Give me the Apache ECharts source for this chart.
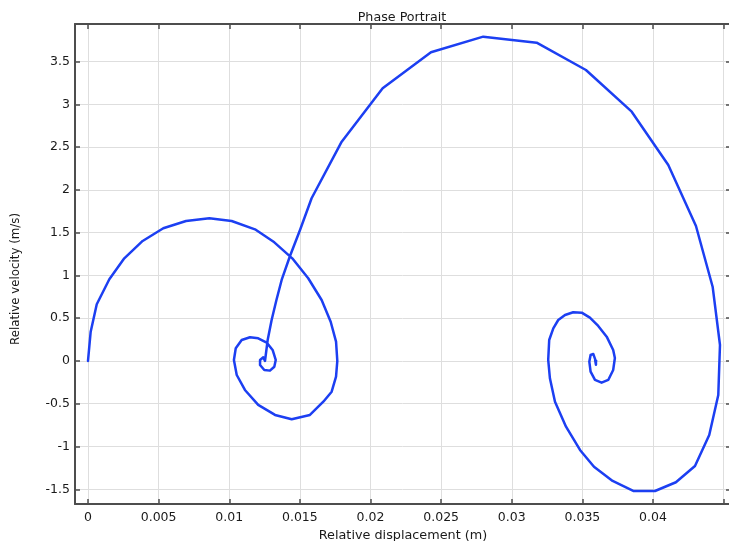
<!DOCTYPE html>
<html>
<head>
<meta charset="utf-8">
<script src="https://cdn.jsdelivr.net/npm/echarts@6/dist/echarts.min.js"></script>
<style>
html,body{margin:0;padding:0;background:#fff;}
#chart{width:729px;height:541px;}
</style>
</head>
<body>
<div id="chart"></div>
<script>
// Relative displacement (m)
const displacement = [
  0, 0.00019, 0.00062, 0.00151, 0.00257, 0.00387, 0.00533, 0.00694, 0.00859, 0.01017,
  0.01182, 0.01319, 0.01446, 0.01559, 0.01654, 0.01718, 0.01756, 0.01765, 0.01756, 0.01725,
  0.01666, 0.01571, 0.01442, 0.01324, 0.01205, 0.01111, 0.01053, 0.01033, 0.01046, 0.01088,
  0.01147, 0.01205, 0.01265, 0.01307, 0.01329, 0.01319, 0.01288, 0.01248, 0.01218, 0.01218,
  0.01241, 0.01253,
  0.01272, 0.01300, 0.01334, 0.01371, 0.01430, 0.01501, 0.01583, 0.01796, 0.02086, 0.02428,
  0.02798, 0.03176, 0.03525, 0.03849, 0.04108, 0.04304, 0.04422, 0.04474, 0.04462, 0.04398,
  0.04297, 0.04162, 0.04014, 0.03860, 0.03714, 0.03582, 0.03483, 0.03384, 0.03306, 0.03270,
  0.03258, 0.03265, 0.03294, 0.03329, 0.03377, 0.03435, 0.03495, 0.03553, 0.03612, 0.03672,
  0.03718, 0.03730, 0.03718, 0.03683, 0.03636, 0.03589, 0.03558, 0.03549, 0.03558, 0.03577,
  0.03596, 0.03603, 0.03596, 0.03590, 0.03598
];
// Relative velocity (m/s)
const velocity = [
  0, 0.342, 0.663, 0.955, 1.200, 1.403, 1.551, 1.636, 1.668, 1.636,
  1.539, 1.387, 1.200, 0.967, 0.713, 0.459, 0.226, 0, -0.184, -0.359,
  -0.476, -0.631, -0.681, -0.631, -0.514, -0.339, -0.164, 0.012, 0.148, 0.245,
  0.277, 0.265, 0.214, 0.129, 0.012, -0.067, -0.113, -0.105, -0.047, 0.012,
  0.043, 0,
  0.245, 0.479, 0.713, 0.947, 1.227, 1.531, 1.902, 2.563, 3.188, 3.608,
  3.791, 3.721, 3.401, 2.914, 2.291, 1.578, 0.868, 0.187, -0.397, -0.865,
  -1.227, -1.418, -1.520, -1.520, -1.403, -1.236, -1.040, -0.768, -0.476, -0.202,
  0.012, 0.245, 0.382, 0.479, 0.538, 0.569, 0.565, 0.506, 0.409, 0.284,
  0.129, 0.035, -0.105, -0.222, -0.254, -0.222, -0.125, -0.008, 0.070, 0.082,
  -0.008, -0.03, -0.045, 0.01, 0
];
const titleText = 'Phase Portrait';
const xName = 'Relative displacement (m)';
const yName = 'Relative velocity (m/s)';
const xLabelMaxShown = 0.04; // last x tick label that fits in the picture

const points = displacement.map((d, i) => [d, velocity[i]]);

const xMin = -0.00092, xMax = 0.04552;
const yMin = -1.672, yMax = 3.939;
const axisColor = '#4d4d4d';
const textColor = '#1a1a1a';
const font = 'DejaVu Sans';

const chart = echarts.init(document.getElementById('chart'), null, {renderer: 'canvas'});
chart.setOption({
  animation: false,
  backgroundColor: '#ffffff',
  title: {
    text: titleText,
    left: 397,
    textAlign: 'center',
    top: 6,
    textStyle: {fontFamily: font, fontSize: 12.7, fontWeight: 'normal', color: textColor}
  },
  graphic: [{
    type: 'text',
    x: 16, y: 279,
    rotation: Math.PI / 2,
    style: {
      text: yName, fontFamily: font, fontSize: 11.8, fill: textColor,
      align: 'center', verticalAlign: 'middle'
    }
  }],
  grid: {left: 75, right: -2, top: 24, bottom: 37, outerBoundsMode: 'none', containLabel: false},
  xAxis: [{
    type: 'value', min: xMin, max: xMax, splitNumber: 10,
    name: xName, nameLocation: 'middle', nameGap: 19,
    nameTextStyle: {fontFamily: font, fontSize: 12.8, color: textColor},
    axisLine: {show: true, onZero: false, lineStyle: {color: axisColor, width: 2}},
    axisTick: {show: true, inside: true, length: 5, lineStyle: {color: axisColor, width: 1.5}},
    axisLabel: {show: true, margin: 7, showMinLabel: false, showMaxLabel: false,
      fontFamily: font, fontSize: 12.5, color: textColor,
      formatter: v => (v > xLabelMaxShown + 1e-9 ? '' : String(+v.toFixed(4)))},
    splitLine: {show: true, lineStyle: {color: '#dedede', width: 1}}
  }, {
    type: 'value', position: 'top', min: xMin, max: xMax, splitNumber: 10,
    axisLine: {show: true, onZero: false, lineStyle: {color: axisColor, width: 2}},
    axisTick: {show: true, inside: true, length: 5, lineStyle: {color: axisColor, width: 1.5}},
    axisLabel: {show: false},
    splitLine: {show: false}
  }],
  yAxis: [{
    type: 'value', min: yMin, max: yMax, splitNumber: 11,
    axisLine: {show: true, onZero: false, lineStyle: {color: axisColor, width: 2}},
    axisTick: {show: true, inside: true, length: 5, lineStyle: {color: axisColor, width: 1.5}},
    axisLabel: {show: true, margin: 5, showMinLabel: false, showMaxLabel: false,
      fontFamily: font, fontSize: 12.5, color: textColor},
    splitLine: {show: true, lineStyle: {color: '#dedede', width: 1}}
  }, {
    type: 'value', position: 'right', min: yMin, max: yMax, splitNumber: 11,
    axisLine: {show: true, onZero: false, lineStyle: {color: axisColor, width: 2}},
    axisTick: {show: true, inside: true, length: 5, lineStyle: {color: axisColor, width: 1.5}},
    axisLabel: {show: false},
    splitLine: {show: false}
  }],
  series: [{
    type: 'line',
    xAxisIndex: 0, yAxisIndex: 0,
    data: points,
    showSymbol: false,
    symbol: 'none',
    smooth: false,
    clip: true,
    lineStyle: {color: '#1c3ff2', width: 2.5, join: 'round', cap: 'round'}
  }]
});
</script>
</body>
</html>
